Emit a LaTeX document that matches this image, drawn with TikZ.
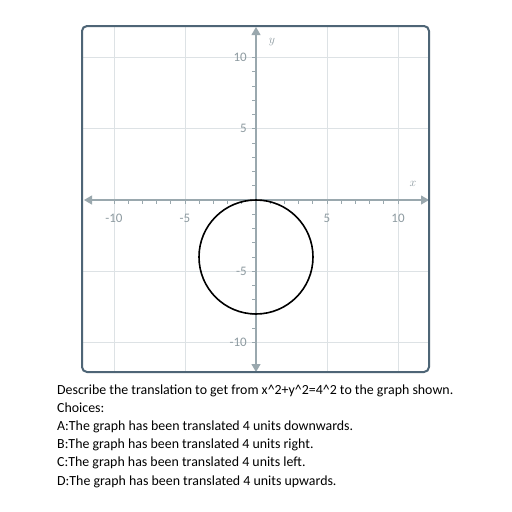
\documentclass[tikz,border=0pt]{standalone}
\usepackage{fontspec}
\setmainfont{Carlito}
\usetikzlibrary{arrows.meta}
\definecolor{axisc}{HTML}{9AA8AE}
\definecolor{gridc}{HTML}{DDE2E5}
\definecolor{framec}{HTML}{4E6576}
\definecolor{labc}{HTML}{8E9BA1}
\begin{document}
\begin{tikzpicture}[x=1pt,y=-1pt,
  gridline/.style={gridc, line width=0.9pt},
  axisline/.style={axisc, line width=1.1pt},
  tickline/.style={axisc, line width=0.9pt},
  ticklab/.style={text=labc, font=\fontsize{13}{13}\selectfont, inner sep=0pt},
  axlab/.style={text=labc, font=\fontsize{12}{12}\selectfont, inner sep=0pt},
  qtext/.style={anchor=base west, inner sep=0pt, font=\fontsize{13.9}{13.9}\selectfont, text=black}]
\useasboundingbox (0,0) rectangle (512,512);
\fill[white] (0,0) rectangle (512,512);
% grid
\foreach \v in {-10,-5,5,10} {
  \draw[gridline] ({256+14.2*\v},27) -- ({256+14.2*\v},371);
  \draw[gridline] (83,{200-14.25*\v}) -- (428,{200-14.25*\v});
}
% ticks
\foreach \i in {-10,...,-1,1,2,...,10} {
  \draw[tickline] ({256+14.2*\i},200) -- ({256+14.2*\i},204);
  \draw[tickline] (256,{200-14.25*\i}) -- (252,{200-14.25*\i});
}
% axes
\coordinate (xl) at (84,200);
\coordinate (xr) at (429,200);
\coordinate (yt) at (256,27);
\coordinate (yb) at (256,372);
\draw[axisline, {Triangle[length=8pt,width=9pt]}-{Triangle[length=8pt,width=9pt]}] (xl) -- (xr);
\draw[axisline, {Triangle[length=8pt,width=9pt]}-{Triangle[length=8pt,width=9pt]}] (yt) -- (yb);
% tick labels
\foreach \v in {-10,-5,5,10} {
  \node[ticklab] (xt\v) at ({256+14.2*\v},218) {\v};
  \node[ticklab, anchor=east] (yl\v) at (247,{200-14.25*\v}) {\v};
}
\node[axlab] (ylab) at (272,42) {$y$};
\node[axlab] (xlab) at (413,184) {$x$};
% circle
\draw[black, line width=1.6pt] (256,257) circle (57);
% frame
\draw[framec, line width=2pt, rounded corners=5pt] (82,26) rectangle (429,372);
% question text
\node[qtext] (q0) at (57,394) {Describe the translation to get from x\^{}2+y\^{}2=4\^{}2 to the graph shown.};
\node[qtext] (q1) at (57,412.2) {Choices:};
\node[qtext] (q2) at (57,430.4) {A:The graph has been translated 4 units downwards.};
\node[qtext] (q3) at (57,448.6) {B:The graph has been translated 4 units right.};
\node[qtext] (q4) at (57,466.8) {C:The graph has been translated 4 units left.};
\node[qtext] (q5) at (57,485) {D:The graph has been translated 4 units upwards.};
\end{tikzpicture}
\end{document}
